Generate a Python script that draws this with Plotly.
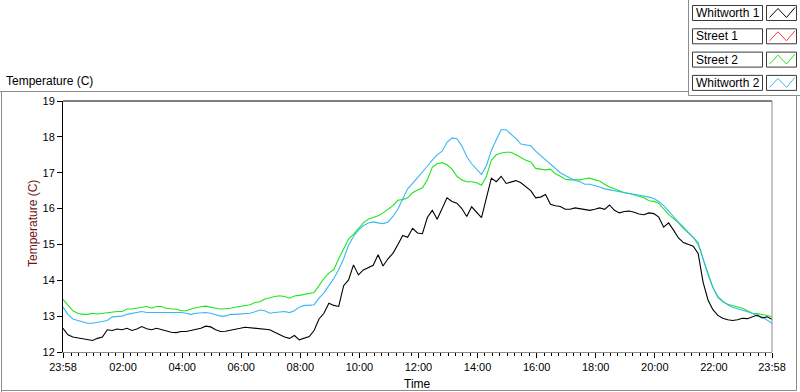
import plotly.graph_objects as go
from datetime import datetime, timedelta

# ---------------- data ----------------
start = datetime(2000, 1, 1, 23, 58)
minutes = list(range(0, 1441, 10))

series_names = ["Whitworth 1", "Street 1", "Street 2", "Whitworth 2"]
series_colors = ["#000000", "#ff3a3a", "#1ee61e", "#3cb6f2"]

whitworth1 = [
    12.66, 12.48, 12.42, 12.40, 12.38, 12.35, 12.32, 12.38, 12.42, 12.62,
    12.60, 12.64, 12.62, 12.66, 12.60, 12.64, 12.71, 12.65, 12.62, 12.66,
    12.62, 12.60, 12.55, 12.54, 12.57, 12.57, 12.60, 12.63, 12.66, 12.72,
    12.70, 12.62, 12.57, 12.58, 12.60, 12.64, 12.66, 12.69, 12.68, 12.66,
    12.65, 12.63, 12.62, 12.55, 12.48, 12.42, 12.38, 12.46, 12.34, 12.38,
    12.43, 12.60, 12.92, 13.08, 13.36, 13.30, 13.27, 13.85, 14.01, 14.43,
    14.15, 14.29, 14.35, 14.42, 14.71, 14.40, 14.60, 14.75, 14.99, 15.25,
    15.20, 15.45, 15.32, 15.30, 15.75, 15.95, 15.70, 16.00, 16.30, 16.20,
    16.15, 16.00, 15.78, 16.05, 15.90, 15.75, 16.30, 16.85, 16.75, 16.90,
    16.70, 16.75, 16.78, 16.72, 16.60, 16.50, 16.30, 16.32, 16.39, 16.12,
    16.08, 16.06, 15.98, 15.98, 16.02, 16.00, 15.97, 15.95, 15.98, 16.02,
    15.98, 16.10, 15.95, 15.88, 15.92, 15.93, 15.90, 15.85, 15.83, 15.88,
    15.86, 15.76, 15.48, 15.60, 15.40, 15.18, 15.05, 15.00, 14.95, 14.75,
    13.95, 13.45, 13.18, 13.02, 12.94, 12.90, 12.88, 12.90, 12.94, 12.93,
    12.98, 13.03, 12.95, 12.98, 12.91,
]

street1 = []  # no visible data

street2 = [
    13.47, 13.30, 13.15, 13.08, 13.05, 13.05, 13.08, 13.06, 13.08, 13.10,
    13.10, 13.13, 13.13, 13.20, 13.20, 13.22, 13.25, 13.27, 13.22, 13.27,
    13.27, 13.22, 13.20, 13.20, 13.15, 13.15, 13.20, 13.24, 13.26, 13.28,
    13.24, 13.22, 13.20, 13.20, 13.22, 13.25, 13.27, 13.30, 13.32, 13.38,
    13.40, 13.48, 13.52, 13.55, 13.57, 13.55, 13.50, 13.56, 13.58, 13.60,
    13.62, 13.66, 13.85, 14.05, 14.20, 14.30, 14.60, 14.90, 15.15, 15.28,
    15.45, 15.60, 15.70, 15.74, 15.80, 15.88, 15.97, 16.08, 16.23, 16.25,
    16.30, 16.44, 16.52, 16.58, 16.80, 17.15, 17.25, 17.28, 17.22, 17.10,
    16.90, 16.80, 16.75, 16.75, 16.72, 16.65, 16.90, 17.35, 17.50, 17.55,
    17.57, 17.57, 17.50, 17.42, 17.35, 17.30, 17.12, 17.10, 17.08, 17.10,
    16.97, 16.90, 16.82, 16.80, 16.80, 16.80, 16.83, 16.85, 16.80, 16.77,
    16.68, 16.60, 16.55, 16.50, 16.44, 16.42, 16.38, 16.35, 16.30, 16.22,
    16.20, 16.15, 15.98, 15.83, 15.72, 15.60, 15.45, 15.32, 15.20, 15.00,
    14.60, 14.15, 13.80, 13.52, 13.40, 13.33, 13.30, 13.25, 13.22, 13.15,
    13.08, 13.07, 13.05, 13.03, 12.99,
]

whitworth2 = [
    13.25, 13.05, 12.92, 12.88, 12.83, 12.80, 12.80, 12.83, 12.85, 12.88,
    12.98, 13.00, 13.00, 13.05, 13.08, 13.10, 13.13, 13.10, 13.10, 13.12,
    13.12, 13.10, 13.10, 13.10, 13.10, 13.08, 13.05, 13.08, 13.10, 13.10,
    13.08, 13.05, 13.00, 13.00, 13.05, 13.05, 13.06, 13.06, 13.08, 13.12,
    13.17, 13.15, 13.08, 13.10, 13.12, 13.13, 13.10, 13.15, 13.25, 13.30,
    13.30, 13.32, 13.50, 13.65, 13.85, 14.05, 14.30, 14.60, 14.98, 15.22,
    15.40, 15.52, 15.60, 15.63, 15.60, 15.58, 15.62, 15.78, 15.98, 16.25,
    16.55, 16.70, 16.85, 17.00, 17.18, 17.35, 17.50, 17.60, 17.85, 17.97,
    17.95, 17.75, 17.45, 17.25, 17.10, 16.95, 17.20, 17.62, 17.92, 18.20,
    18.20, 18.08, 17.95, 17.80, 17.78, 17.75, 17.60, 17.48, 17.35, 17.22,
    17.12, 17.00, 16.92, 16.85, 16.78, 16.75, 16.68, 16.68, 16.65, 16.60,
    16.55, 16.52, 16.50, 16.46, 16.44, 16.42, 16.40, 16.38, 16.36, 16.32,
    16.28, 16.20, 16.08, 15.92, 15.75, 15.62, 15.48, 15.35, 15.20, 15.05,
    14.60, 14.15, 13.80, 13.55, 13.42, 13.32, 13.25, 13.20, 13.17, 13.12,
    13.08, 13.00, 12.98, 12.90, 12.80,
]

x_tick_labels = ["23:58", "02:00", "04:00", "06:00", "08:00", "10:00", "12:00",
                 "14:00", "16:00", "18:00", "20:00", "22:00", "23:58"]
y_ticks = [12, 13, 14, 15, 16, 17, 18, 19]

# ---------------- figure ----------------
times = [start + timedelta(minutes=m) for m in minutes]
end = start + timedelta(minutes=1440)

FONT = "Liberation Sans"
fig = go.Figure()
all_series = [whitworth1, street1, street2, whitworth2]
draw_order = [1, 2, 3, 0]  # black on top
for i in draw_order:
    vals = all_series[i]
    fig.add_trace(go.Scatter(
        x=times[:len(vals)], y=vals, mode="lines", name=series_names[i],
        line=dict(color=series_colors[i], width=1.1),
        showlegend=False, hoverinfo="skip"))

major_vals = [start] + [datetime(2000, 1, 2, h, 0) for h in range(2, 23, 2)] + [end]
minor_vals = []
t = datetime(2000, 1, 2, 0, 0)
while t < end:
    minor_vals.append(t)
    t += timedelta(minutes=15)

L, R, T, B = 63, 772, 101, 352
W, H = 800, 392


def px(x):
    return (x - L) / (R - L)


def py(y):
    return (B - y) / (B - T)


fig.update_layout(
    width=W, height=H,
    margin=dict(l=L, r=W - R, t=T, b=H - B, autoexpand=False),
    paper_bgcolor="white", plot_bgcolor="white",
    font=dict(family=FONT, size=11, color="#000000"),
    showlegend=False,
)
fig.update_xaxes(
    type="date", range=[start, end],
    tickmode="array", tickvals=major_vals, ticktext=x_tick_labels,
    ticks="outside", ticklen=5, tickcolor="#000000", tickwidth=1,
    minor=dict(tickmode="array", tickvals=minor_vals, ticks="outside",
               ticklen=3, tickcolor="#000000", tickwidth=1),
    showgrid=False, zeroline=False,
    showline=True, linecolor="#8c8c8c", linewidth=1,
    tickfont=dict(family=FONT, size=11, color="#000000"),
)
fig.update_yaxes(
    range=[12, 19], tickmode="array", tickvals=y_ticks,
    ticks="outside", ticklen=5, tickcolor="#000000", tickwidth=1,
    showgrid=False, zeroline=False,
    showline=True, linecolor="#000000", linewidth=1,
    tickfont=dict(family=FONT, size=11, color="#000000"),
)

shapes = []
# plot frame top (black) and right (grey)
shapes.append(dict(type="line", xref="paper", yref="paper", x0=0, x1=1, y0=1, y1=1,
                   line=dict(color="#000000", width=1)))
shapes.append(dict(type="line", xref="paper", yref="paper", x0=1, x1=1, y0=0, y1=1,
                   line=dict(color="#8c8c8c", width=1)))
# outer graph frame
frame = "#8c8c8c"
shapes.append(dict(type="line", xref="paper", yref="paper", x0=px(0), x1=px(688.5),
                   y0=py(91.5), y1=py(91.5), line=dict(color=frame, width=1)))
shapes.append(dict(type="line", xref="paper", yref="paper", x0=px(1.5), x1=px(1.5),
                   y0=py(91.5), y1=py(392), line=dict(color=frame, width=1)))
shapes.append(dict(type="line", xref="paper", yref="paper", x0=px(796.5), x1=px(796.5),
                   y0=py(95.5), y1=py(390.5), line=dict(color=frame, width=1)))
shapes.append(dict(type="line", xref="paper", yref="paper", x0=px(1.5), x1=px(796.5),
                   y0=py(390.5), y1=py(390.5), line=dict(color=frame, width=1)))
# legend frame
shapes.append(dict(type="line", xref="paper", yref="paper", x0=px(688.5), x1=px(688.5),
                   y0=py(0), y1=py(95.5), line=dict(color=frame, width=1)))
shapes.append(dict(type="line", xref="paper", yref="paper", x0=px(688.5), x1=px(800),
                   y0=py(95.5), y1=py(95.5), line=dict(color=frame, width=1)))

annotations = []
# legend entries
for i, name in enumerate(series_names):
    yt = 5.5 + i * 23.3
    yb = yt + 15
    shapes.append(dict(type="rect", xref="paper", yref="paper",
                       x0=px(692.5), x1=px(762.5), y0=py(yb), y1=py(yt),
                       line=dict(color="#3a3a3a", width=1), fillcolor="white"))
    shapes.append(dict(type="rect", xref="paper", yref="paper",
                       x0=px(766.5), x1=px(796.5), y0=py(yb), y1=py(yt),
                       line=dict(color="#3a3a3a", width=1), fillcolor="white"))
    pts = [(769.5, yb - 3), (778, yt + 3), (786.5, yb - 3), (795, yt + 2)]
    path = "M " + " L ".join(f"{px(a):.5f},{py(b):.5f}" for a, b in pts)
    shapes.append(dict(type="path", xref="paper", yref="paper", path=path,
                       line=dict(color=series_colors[i], width=1)))
    annotations.append(dict(xref="paper", yref="paper", x=px(694), y=py((yt + yb) / 2),
                            text=name, showarrow=False, xanchor="left", yanchor="middle",
                            font=dict(family=FONT, size=12, color="#000000")))

# chart label
annotations.append(dict(xref="paper", yref="paper", x=px(4), y=py(81),
                        text="Temperature (C)", showarrow=False,
                        xanchor="left", yanchor="middle",
                        font=dict(family=FONT, size=12, color="#000000")))
# axis titles
annotations.append(dict(xref="paper", yref="paper", x=px(33), y=py(224),
                        text="Temperature (C)", showarrow=False, textangle=-90,
                        xanchor="center", yanchor="middle",
                        font=dict(family=FONT, size=12, color="#6e1414")))
annotations.append(dict(xref="paper", yref="paper", x=px(417), y=py(384),
                        text="Time", showarrow=False,
                        xanchor="center", yanchor="middle",
                        font=dict(family=FONT, size=12, color="#000000")))

fig.update_layout(shapes=shapes, annotations=annotations)
fig.write_html("out.html",
               config={"displayModeBar": False},
               post_script="document.body.style.margin='0';document.body.style.overflow='hidden';")
